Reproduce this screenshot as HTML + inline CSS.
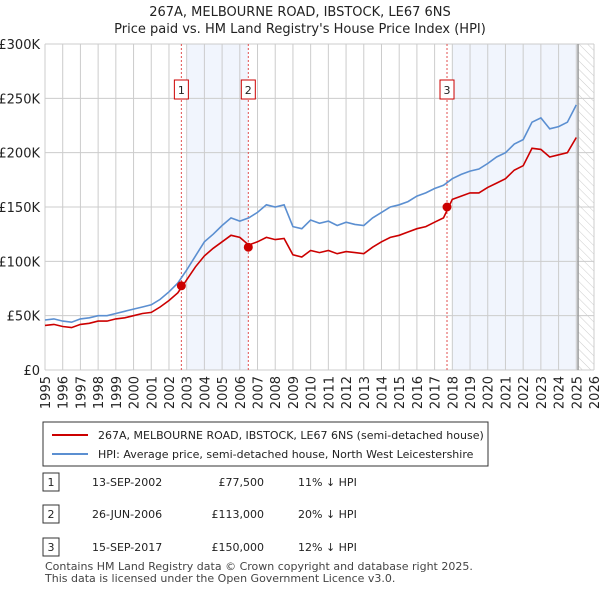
<!DOCTYPE html>
<html><head><meta charset="utf-8"><style>
body{margin:0;background:#fff;font-family:"Liberation Sans","DejaVu Sans",sans-serif;}
svg text{font-family:"DejaVu Sans","Liberation Sans",sans-serif;}
</style></head><body>
<svg id="c" width="600" height="590" viewBox="0 0 600 590" xmlns="http://www.w3.org/2000/svg">
<defs><pattern id="hatch" width="6" height="6" patternUnits="userSpaceOnUse" patternTransform="rotate(-45)"><line x1="0" y1="0" x2="0" y2="6" stroke="#ccc" stroke-width="1"/></pattern></defs>
<text x="300" y="16" text-anchor="middle" font-size="13" fill="#222">267A, MELBOURNE ROAD, IBSTOCK, LE67 6NS</text>
<text x="300" y="33" text-anchor="middle" font-size="13" fill="#222">Price paid vs. HM Land Registry's House Price Index (HPI)</text>
<g id="plot"></g>
<g>
<rect x="43" y="422" width="445" height="44" fill="#fff" stroke="#333"/>
<line x1="52" y1="435" x2="88" y2="435" stroke="#cc0000" stroke-width="2"/>
<text x="98" y="439" font-size="11" fill="#222">267A, MELBOURNE ROAD, IBSTOCK, LE67 6NS (semi-detached house)</text>
<line x1="52" y1="454" x2="88" y2="454" stroke="#5b8fd1" stroke-width="2"/>
<text x="98" y="458" font-size="11" fill="#222">HPI: Average price, semi-detached house, North West Leicestershire</text>
</g>
<g font-size="11" fill="#222">
<rect x="43" y="473" width="16" height="18" fill="#fff" stroke="#333"/><text x="51" y="486" text-anchor="middle">1</text>
<text x="92" y="486">13-SEP-2002</text><text x="264" y="486" text-anchor="end">£77,500</text><text x="298" y="486">11% ↓ HPI</text>
<rect x="43" y="505" width="16" height="18" fill="#fff" stroke="#333"/><text x="51" y="518" text-anchor="middle">2</text>
<text x="92" y="518">26-JUN-2006</text><text x="264" y="518" text-anchor="end">£113,000</text><text x="298" y="518">20% ↓ HPI</text>
<rect x="43" y="538" width="16" height="18" fill="#fff" stroke="#333"/><text x="51" y="551" text-anchor="middle">3</text>
<text x="92" y="551">15-SEP-2017</text><text x="264" y="551" text-anchor="end">£150,000</text><text x="298" y="551">12% ↓ HPI</text>
</g>
<text x="45" y="570" font-size="11" fill="#444">Contains HM Land Registry data © Crown copyright and database right 2025.</text>
<text x="45" y="582" font-size="11" fill="#444">This data is licensed under the Open Government Licence v3.0.</text>
</svg>
<script>
const years=[1995,1995.5,1996,1996.5,1997,1997.5,1998,1998.5,1999,1999.5,2000,2000.5,2001,2001.5,2002,2002.5,2003,2003.5,2004,2004.5,2005,2005.5,2006,2006.5,2007,2007.5,2008,2008.5,2009,2009.5,2010,2010.5,2011,2011.5,2012,2012.5,2013,2013.5,2014,2014.5,2015,2015.5,2016,2016.5,2017,2017.5,2018,2018.5,2019,2019.5,2020,2020.5,2021,2021.5,2022,2022.5,2023,2023.5,2024,2024.5,2025];
const hpiValues=[46,47,45,44,47,48,50,50,52,54,56,58,60,65,72,80,92,105,118,125,133,140,137,140,145,152,150,152,132,130,138,135,137,133,136,134,133,140,145,150,152,155,160,163,167,170,176,180,183,185,190,196,200,208,212,228,232,222,224,228,244];
const priceValues=[41,42,40,39,42,43,45,45,47,48,50,52,53,58,64,71,83,95,105,112,118,124,122,115,118,122,120,121,106,104,110,108,110,107,109,108,107,113,118,122,124,127,130,132,136,140,157,160,163,163,168,172,176,184,188,204,203,196,198,200,214];
const saleYears=[2002.7,2006.48,2017.7];
const saleValues=[77.5,113,150];
const saleLabels=["1","2","3"];
const yTicks=[0,50,100,150,200,250,300];
const yTickLabels=["£0","£50K","£100K","£150K","£200K","£250K","£300K"];
const xTicks=[1995,1996,1997,1998,1999,2000,2001,2002,2003,2004,2005,2006,2007,2008,2009,2010,2011,2012,2013,2014,2015,2016,2017,2018,2019,2020,2021,2022,2023,2024,2025,2026];

const X0=45,X1=594,Y0=370,Y1=44;
const x=y=>X0+(y-1995)/(2026-1995)*(X1-X0);
const yv=v=>Y0-v/300*(Y0-Y1);
const NS="http://www.w3.org/2000/svg";
const g=document.getElementById('plot');
function mk(t,a){const e=document.createElementNS(NS,t);for(const k in a)e.setAttribute(k,a[k]);g.appendChild(e);return e;}

let e=mk('rect',{x:x(2003),y:Y1,width:x(2006.48)-x(2003),height:Y0-Y1,fill:'#eef3fc',opacity:0.8});


e=mk('rect',{x:x(2018),y:Y1,width:x(2025.1)-x(2018),height:Y0-Y1,fill:'#eef3fc',opacity:0.8});


e=mk('rect',{x:x(2025.1),y:Y1,width:X1-x(2025.1),height:Y0-Y1,fill:'url(#hatch)'});



xTicks.forEach(t=>{
 let l=mk('line',{x1:x(t),x2:x(t),y1:Y1,y2:Y0,stroke:'#ccc','stroke-width':1});
 
 
 let tx=mk('text',{x:0,y:0,'font-size':13,fill:'#222','text-anchor':'end',transform:`translate(${x(t)+5},${Y0+6}) rotate(-90)`});
 tx.textContent=t;
 
 
});
yTicks.forEach((t,i)=>{
 let l=mk('line',{x1:X0,x2:X1,y1:yv(t),y2:yv(t),stroke:'#ccc','stroke-width':1});
 
 
 let tx=mk('text',{x:40,y:yv(t)+5,'font-size':13,fill:'#222','text-anchor':'end'});
 tx.textContent=yTickLabels[i];
 
 
});
e=mk('line',{x1:x(2025.1),x2:x(2025.1),y1:Y1,y2:Y0,stroke:'#999','stroke-width':1.5});



saleYears.forEach((s,i)=>{
 let l=mk('line',{x1:x(s),x2:x(s),y1:Y1,y2:Y0,stroke:'#e05050','stroke-width':1,'stroke-dasharray':'2,2'});
 
 
 let r=mk('rect',{x:x(s)-7,y:80,width:14,height:19,fill:'#fff',stroke:'#cc0000'});
 
 
 let t=mk('text',{x:x(s),y:94,'font-size':11,'text-anchor':'middle',fill:'#222'});
 t.textContent=saleLabels[i];
 
 
});

const path=v=>years.map((yy,i)=>(i?'L':'M')+x(yy).toFixed(1)+','+yv(v[i]).toFixed(1)).join('');
e=mk('path',{d:path(hpiValues),fill:'none',stroke:'#5b8fd1','stroke-width':1.6});


e=mk('path',{d:path(priceValues),fill:'none',stroke:'#cc0000','stroke-width':1.6});


saleYears.forEach((s,i)=>{
 let c=mk('circle',{cx:x(s),cy:yv(saleValues[i]),r:4.5,fill:'#cc0000'});
 
 
});
</script>
</body></html>
